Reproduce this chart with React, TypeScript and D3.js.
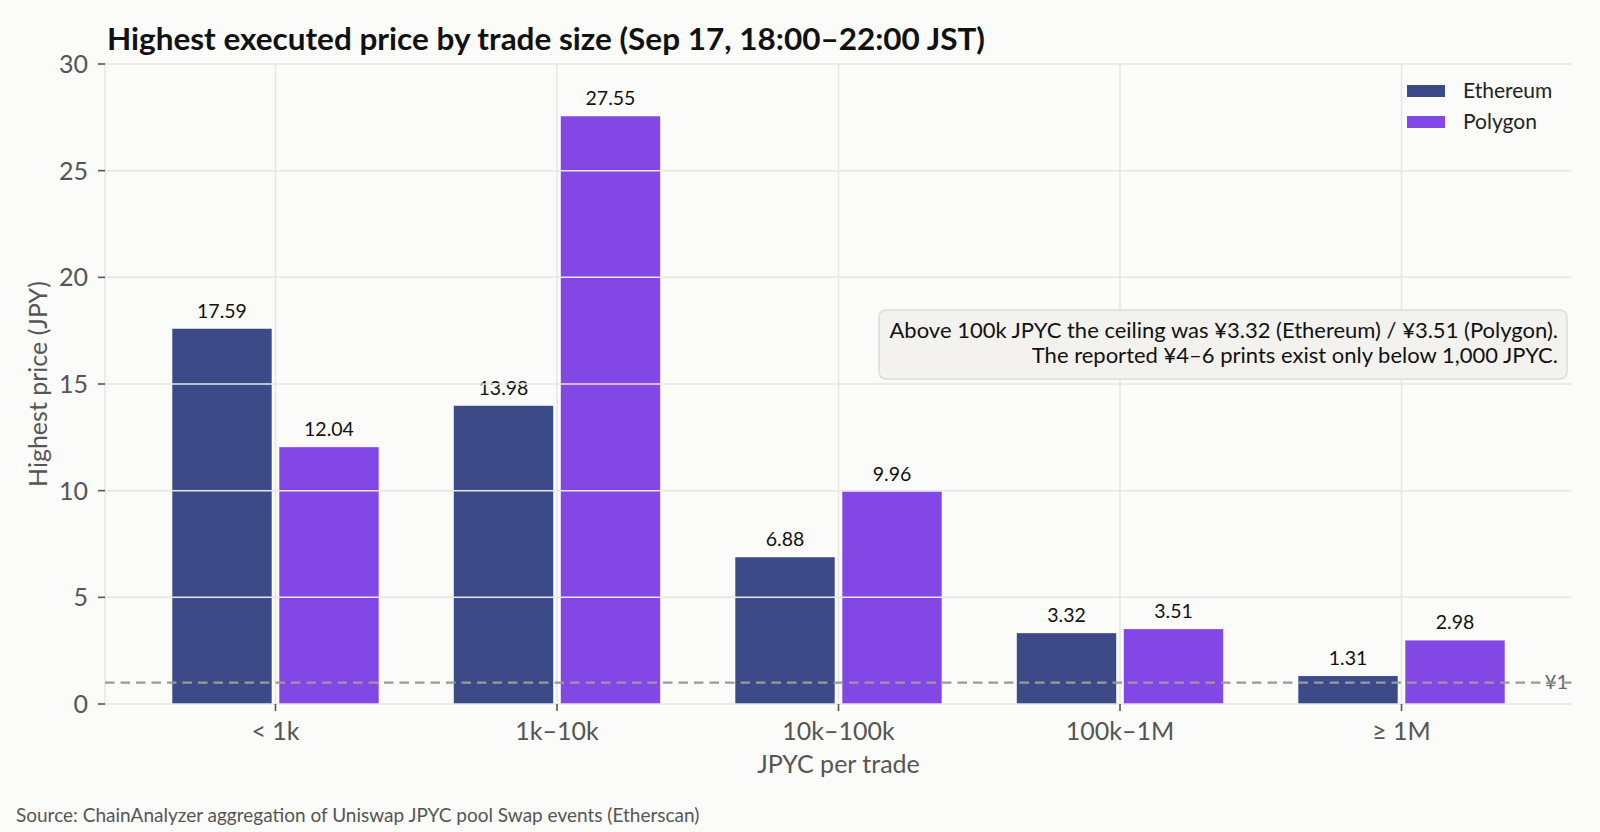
import React from "react";
import * as d3 from "d3";

const W = 1600;
const H = 832;

const categories = ["< 1k", "1k–10k", "10k–100k", "100k–1M", "≥ 1M"];
const series = ["Ethereum", "Polygon"];
const ethereum = [17.59, 13.98, 6.88, 3.32, 1.31];
const polygon = [12.04, 27.55, 9.96, 3.51, 2.98];
const yTicks = [0, 5, 10, 15, 20, 25, 30];
const refLine = 1;
const noteLines = [
  "Above 100k JPYC the ceiling was ¥3.32 (Ethereum) / ¥3.51 (Polygon).",
  "The reported ¥4–6 prints exist only below 1,000 JPYC.",
];

const COLORS: Record<string, string> = { Ethereum: "#3c4a88", Polygon: "#8247e5" };
const FONT = "Lato, 'Noto Sans', sans-serif";
const m = { left: 105, right: 1572, top: 64, bottom: 704 };

export default function App() {
  const x = d3.scaleBand<string>().domain(categories).range([m.left, m.right])
    .paddingInner(0).paddingOuter(0.1056).align(0.5);
  const x1 = d3.scaleBand<string>().domain(series).range([-103.2, 103.2]).paddingInner(0.071);
  const y = d3.scaleLinear().domain([0, 30]).range([m.bottom, m.top]);
  const values: Record<string, number[]> = { Ethereum: ethereum, Polygon: polygon };
  const cx = (c: string) => (x(c) ?? 0) + x.bandwidth() / 2;

  return (
    <svg width={W} height={H} style={{ display: "block", position: "absolute", left: 0, top: 0 }}
      fontFamily={FONT}>
      <rect width={W} height={H} fill="#fbfbf9" />
      <text x={107} y={50} fontSize={31} fontWeight={700} fill="#111" textLength={878}
        lengthAdjust="spacingAndGlyphs">
        Highest executed price by trade size (Sep 17, 18:00–22:00 JST)
      </text>

      {/* bars */}
      {categories.map((c, i) => (
        <g key={c}>
          {series.map((s) => {
            const v = values[s][i];
            const bx = cx(c) + (x1(s) ?? 0);
            return (
              <g key={s}>
                <rect x={bx} y={y(v)} width={x1.bandwidth()} height={y(0) - y(v)} fill={COLORS[s]} />
                <text x={bx + x1.bandwidth() / 2} y={y(v) - 11} textAnchor="middle" fontSize={19.5} fill="#111">
                  {v.toFixed(2)}
                </text>
              </g>
            );
          })}
        </g>
      ))}

      {/* grid on top */}
      <g stroke="#e6e6e6" strokeWidth={1.5}>
        {yTicks.map((t) => (
          <line key={t} x1={m.left} x2={m.right} y1={y(t)} y2={y(t)} />
        ))}
        {categories.map((c) => (
          <line key={c} x1={cx(c)} x2={cx(c)} y1={m.top} y2={m.bottom} />
        ))}
        <line x1={m.left} x2={m.left} y1={m.top} y2={m.bottom} />
      </g>

      {/* reference line */}
      <text x={1568} y={y(refLine) + 6} textAnchor="end" fontSize={20} fill="#666">¥1</text>
      <line x1={m.left} x2={m.right} y1={y(refLine)} y2={y(refLine)} stroke="#9a9a9a" strokeWidth={2.2}
        strokeDasharray="9.5,6" />

      {/* y axis */}
      {yTicks.map((t) => (
        <g key={t}>
          <line x1={m.left - 7} x2={m.left} y1={y(t)} y2={y(t)} stroke="#555" strokeWidth={1.6} />
          <text x={88} y={y(t) + 9} textAnchor="end" fontSize={25} fill="#555">{t}</text>
        </g>
      ))}
      <text transform={`translate(47,${(m.top + m.bottom) / 2}) rotate(-90)`} textAnchor="middle"
        fontSize={25} fill="#555">Highest price (JPY)</text>

      {/* x axis */}
      {categories.map((c) => (
        <g key={c}>
          <line x1={cx(c)} x2={cx(c)} y1={m.bottom} y2={m.bottom + 7} stroke="#555" strokeWidth={1.6} />
          <text x={cx(c)} y={740} textAnchor="middle" fontSize={25} fill="#555">{c}</text>
        </g>
      ))}
      <text x={(m.left + m.right) / 2} y={773} textAnchor="middle" fontSize={25} fill="#555">
        JPYC per trade
      </text>

      {/* legend */}
      {series.map((s, i) => (
        <g key={s} transform={`translate(1407,${85 + i * 31})`}>
          <rect width={38} height={12} fill={COLORS[s]} />
          <text x={56} y={13.3} fontSize={21} fill="#222">{s}</text>
        </g>
      ))}

      {/* annotation */}
      <rect x={879} y={310} width={688} height={69} rx={7} fill="#f3f2ef" stroke="#dddcd8" strokeWidth={1.5} />
      {noteLines.map((l, i) => (
        <text key={i} x={1558} y={337.5 + i * 25} textAnchor="end" fontSize={22} fill="#111">{l}</text>
      ))}

      <text x={16} y={822} fontSize={19} fill="#555">
        Source: ChainAnalyzer aggregation of Uniswap JPYC pool Swap events (Etherscan)
      </text>
    </svg>
  );
}
